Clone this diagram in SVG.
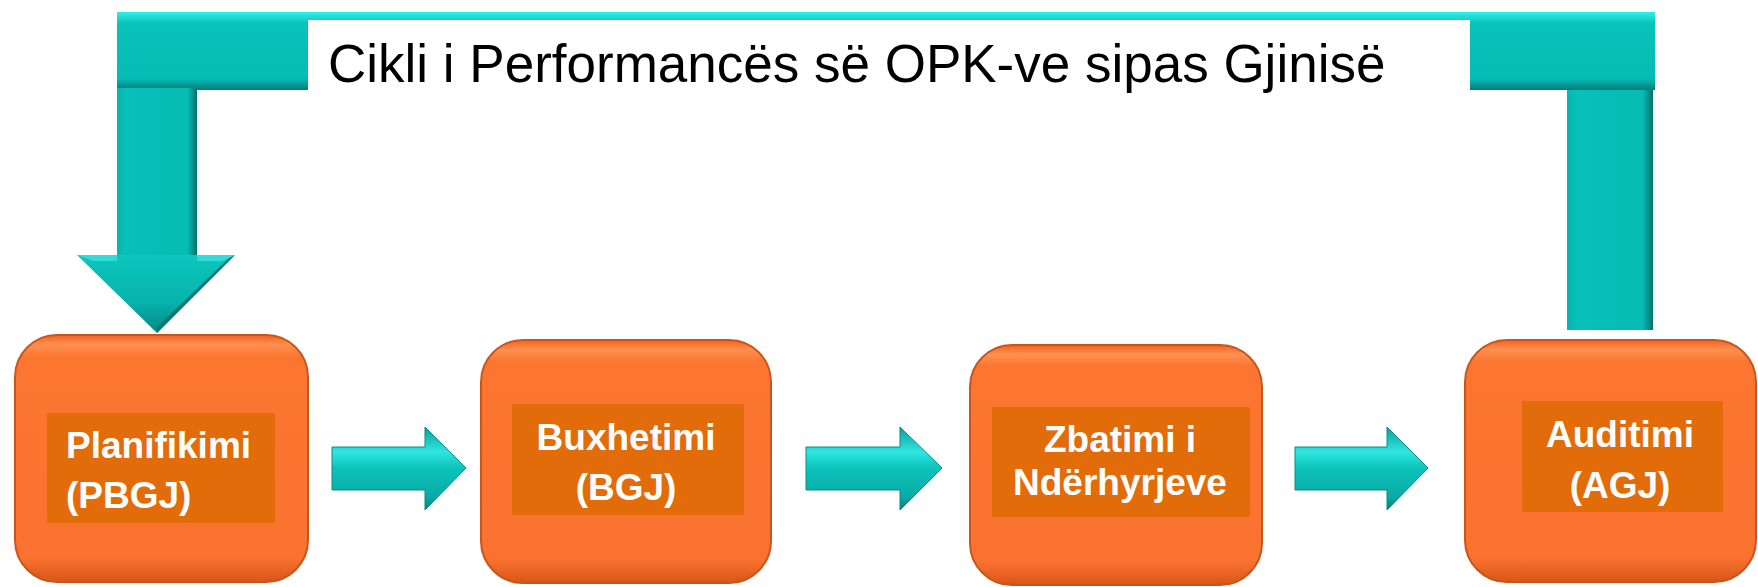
<svg xmlns="http://www.w3.org/2000/svg" width="1758" height="587" viewBox="0 0 1758 587">
  <defs>
    <linearGradient id="og" x1="0" y1="0" x2="0" y2="1">
      <stop offset="0" stop-color="#F0641E"/>
      <stop offset="0.04" stop-color="#FF9050"/>
      <stop offset="0.09" stop-color="#FB7630"/>
      <stop offset="0.9" stop-color="#FA7230"/>
      <stop offset="1" stop-color="#D85618"/>
    </linearGradient>
    <linearGradient id="tgh" x1="0" y1="0" x2="0" y2="1">
      <stop offset="0" stop-color="#30F0EA"/>
      <stop offset="0.15" stop-color="#08C2BA"/>
      <stop offset="0.85" stop-color="#06BCB5"/>
      <stop offset="1" stop-color="#047C78"/>
    </linearGradient>
    <linearGradient id="tgv" x1="0" y1="0" x2="1" y2="0">
      <stop offset="0" stop-color="#0AB2AC"/>
      <stop offset="0.1" stop-color="#07C0B9"/>
      <stop offset="0.88" stop-color="#06BCB5"/>
      <stop offset="1" stop-color="#04706C"/>
    </linearGradient>
    <linearGradient id="thd" x1="0" y1="0" x2="0" y2="1">
      <stop offset="0" stop-color="#0CC6BF"/>
      <stop offset="0.6" stop-color="#07B3AC"/>
      <stop offset="1" stop-color="#058883"/>
    </linearGradient>
    <linearGradient id="tsa" x1="0" y1="0" x2="0" y2="1">
      <stop offset="0" stop-color="#0B9E99"/>
      <stop offset="0.3" stop-color="#2FE6E0"/>
      <stop offset="0.5" stop-color="#0CC3BC"/>
      <stop offset="0.85" stop-color="#0AA9A3"/>
      <stop offset="1" stop-color="#06807C"/>
    </linearGradient>
    <style>
      .node { fill: url(#og); stroke: #C8561C; stroke-width: 2; }
      .lab { fill: #E36C0A; }
      .t { font-family: "Liberation Sans", Arial, sans-serif; font-weight: bold; font-size: 37px; fill: #FFFFFF; }
      .title { font-family: "Liberation Sans", Arial, sans-serif; font-size: 53px; fill: #000000; }
      .sa { fill: url(#tsa); stroke: #078C87; stroke-width: 1; }
    </style>
  </defs>
  <rect x="0" y="0" width="1758" height="587" fill="#FFFFFF"/>

  <g id="connectors">
    <g id="feedback-arrow">
      <rect x="117" y="12" width="1538" height="78" fill="url(#tgh)"/>
      <rect x="117" y="88" width="80" height="167" fill="url(#tgv)"/>
      <path d="M77,255 L235,255 L157,333 Z" fill="url(#thd)"/>
      <path d="M77,255 L117,255 L117,261 L93,261 Z" fill="#30DCD6"/>
      <path d="M197,255 L235,255 L223,261 L197,261 Z" fill="#30DCD6"/>
      <path d="M157,333 L235,255 L228,259 L157,327 Z" fill="#067A76"/>
      <rect x="1567" y="90" width="86" height="240" fill="url(#tgv)"/>
    </g>
    <polygon id="arrow-1-2" class="sa" points="332,447 425,447 425,427 466,468 425,510 425,490 332,490"/>
    <polygon id="arrow-2-3" class="sa" points="806,447 900,447 900,427 942,468 900,510 900,490 806,490"/>
    <polygon id="arrow-3-4" class="sa" points="1295,447 1387,447 1387,427 1428,468 1387,510 1387,490 1295,490"/>
  </g>

  <g id="title">
    <rect x="308" y="20" width="1162" height="82" fill="#FFFFFF"/>
    <text class="title" x="328" y="82">Cikli i Performancës së OPK-ve sipas Gjinisë</text>
  </g>

  <g id="node-planifikimi">
    <rect class="node" x="15" y="335" width="293" height="247" rx="42" ry="42"/>
    <rect class="lab" x="47" y="413" width="228" height="110"/>
    <text class="t" x="66" y="458">Planifikimi</text>
    <text class="t" x="66" y="508">(PBGJ)</text>
  </g>

  <g id="node-buxhetimi">
    <rect class="node" x="481" y="340" width="290" height="243" rx="42" ry="42"/>
    <rect class="lab" x="512" y="404" width="232" height="111"/>
    <text class="t" x="626" y="450" text-anchor="middle">Buxhetimi</text>
    <text class="t" x="626" y="500" text-anchor="middle">(BGJ)</text>
  </g>

  <g id="node-zbatimi">
    <rect class="node" x="970" y="345" width="292" height="240" rx="42" ry="42"/>
    <rect class="lab" x="992" y="407" width="258" height="110"/>
    <text class="t" x="1120" y="452" text-anchor="middle">Zbatimi i</text>
    <text class="t" x="1120" y="495" text-anchor="middle">Ndërhyrjeve</text>
  </g>

  <g id="node-auditimi">
    <rect class="node" x="1465" y="340" width="291" height="242" rx="42" ry="42"/>
    <rect class="lab" x="1522" y="401" width="201" height="111"/>
    <text class="t" x="1620" y="447" text-anchor="middle">Auditimi</text>
    <text class="t" x="1620" y="498" text-anchor="middle">(AGJ)</text>
  </g>
</svg>
